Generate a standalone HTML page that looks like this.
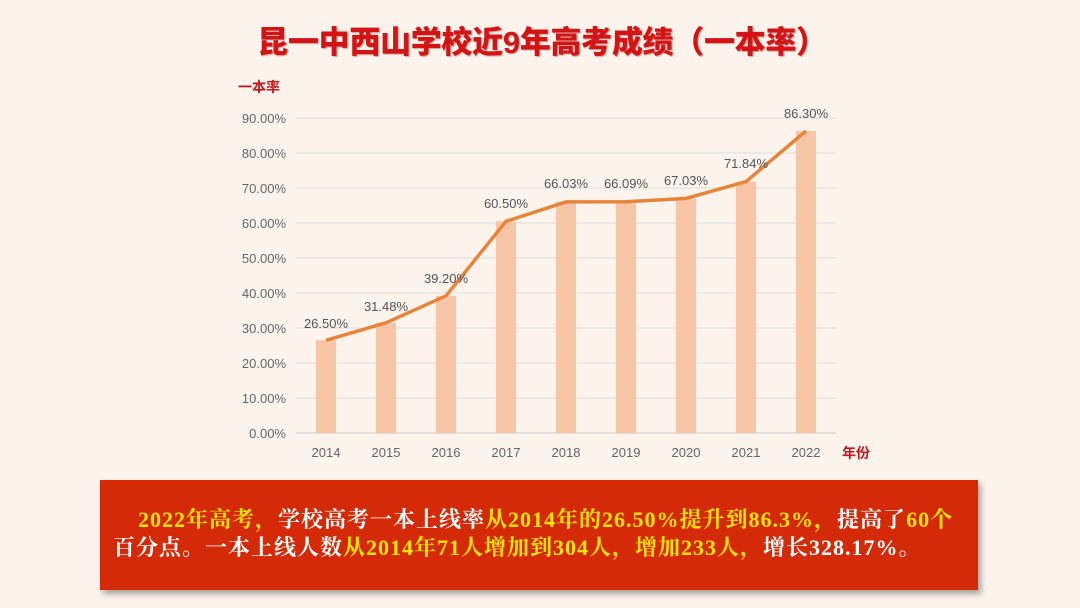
<!DOCTYPE html>
<html><head><meta charset="utf-8"><style>
body{margin:0;width:1080px;height:608px;background:#fcf4ec;overflow:hidden;font-family:"Liberation Sans","Noto Sans CJK SC",sans-serif}
.t{position:absolute;left:2px;width:1080px;top:17px;text-align:center;font-size:31px;font-weight:900;color:#d41414;font-family:"Liberation Sans","Noto Sans CJK SC",sans-serif;letter-spacing:-0.3px;text-shadow:1px 1px 1px rgba(120,0,0,.35)}
.box{position:absolute;left:100px;top:480px;width:878px;height:110px;background:#d42a08;box-shadow:3px 4px 6px rgba(0,0,0,.35)}
.box p{margin:0;position:absolute;left:13px;top:26px;font-family:"Liberation Serif","Noto Serif CJK SC",serif;font-weight:bold;font-size:22px;letter-spacing:1px;line-height:28px;color:#fff;width:870px;white-space:nowrap}
.y{color:#ffe600}
</style></head><body>
<div class="t">昆一中西山学校近9年高考成绩（一本率）</div>
<svg width="1080" height="608" style="position:absolute;left:0;top:0">
<g font-family="Liberation Sans,sans-serif" font-size="13" fill="#666" text-anchor="end">
<text x="286" y="438">0.00%</text><text x="286" y="403">10.00%</text><text x="286" y="368">20.00%</text><text x="286" y="333">30.00%</text><text x="286" y="298">40.00%</text><text x="286" y="263">50.00%</text><text x="286" y="228">60.00%</text><text x="286" y="193">70.00%</text><text x="286" y="158">80.00%</text><text x="286" y="123">90.00%</text>
</g>
<g stroke="#dcdcdc" stroke-width="1">
<line x1="296" x2="836" y1="118" y2="118"/><line x1="296" x2="836" y1="153" y2="153"/><line x1="296" x2="836" y1="188" y2="188"/><line x1="296" x2="836" y1="223" y2="223"/><line x1="296" x2="836" y1="258" y2="258"/><line x1="296" x2="836" y1="293" y2="293"/><line x1="296" x2="836" y1="328" y2="328"/><line x1="296" x2="836" y1="363" y2="363"/><line x1="296" x2="836" y1="398" y2="398"/><line x1="296" x2="836" y1="433" y2="433" stroke="#ccc"/>
</g>
<g fill="#f8c6a6">
<rect x="316" y="340.3" width="20" height="92.7"/><rect x="376" y="322.8" width="20" height="110.2"/><rect x="436" y="295.8" width="20" height="137.2"/><rect x="496" y="221.3" width="20" height="211.7"/><rect x="556" y="201.9" width="20" height="231.1"/><rect x="616" y="201.7" width="20" height="231.3"/><rect x="676" y="198.4" width="20" height="234.6"/><rect x="736" y="181.6" width="20" height="251.4"/><rect x="796" y="131" width="20" height="302"/>
</g>
<polyline fill="none" stroke="#e8843a" stroke-width="3.5" stroke-linejoin="round" points="326,340.3 386,322.8 446,295.8 506,221.3 566,201.9 626,201.7 686,198.4 746,181.6 806,131"/>
<g font-family="Liberation Sans,sans-serif" font-size="13" fill="#555" text-anchor="middle">
<text x="326" y="328">26.50%</text><text x="386" y="311">31.48%</text><text x="446" y="283">39.20%</text><text x="506" y="208">60.50%</text><text x="566" y="188">66.03%</text><text x="626" y="188">66.09%</text><text x="686" y="185">67.03%</text><text x="746" y="168">71.84%</text><text x="806" y="118">86.30%</text>
</g>
<g font-family="Liberation Sans,sans-serif" font-size="13" fill="#666" text-anchor="middle">
<text x="326" y="457">2014</text><text x="386" y="457">2015</text><text x="446" y="457">2016</text><text x="506" y="457">2017</text><text x="566" y="457">2018</text><text x="626" y="457">2019</text><text x="686" y="457">2020</text><text x="746" y="457">2021</text><text x="806" y="457">2022</text>
</g>
<text x="238" y="92" font-family="Noto Sans CJK SC,sans-serif" font-size="14" font-weight="bold" fill="#c8141a">一本率</text>
<text x="842" y="458" font-family="Noto Sans CJK SC,sans-serif" font-size="14" font-weight="bold" fill="#c8141a">年份</text>
</svg>
<div class="box"><p><span style="display:inline-block;width:25px"></span><span class="y">2022年高考，</span>学校高考一本上线率<span class="y">从2014年的26.50%提升到86.3%，</span>提高了<span class="y">60个</span><br>百分点。一本上线人数<span class="y">从2014年71人增加到304人，增加233人，</span>增长328.17%。</p></div>
</body></html>
